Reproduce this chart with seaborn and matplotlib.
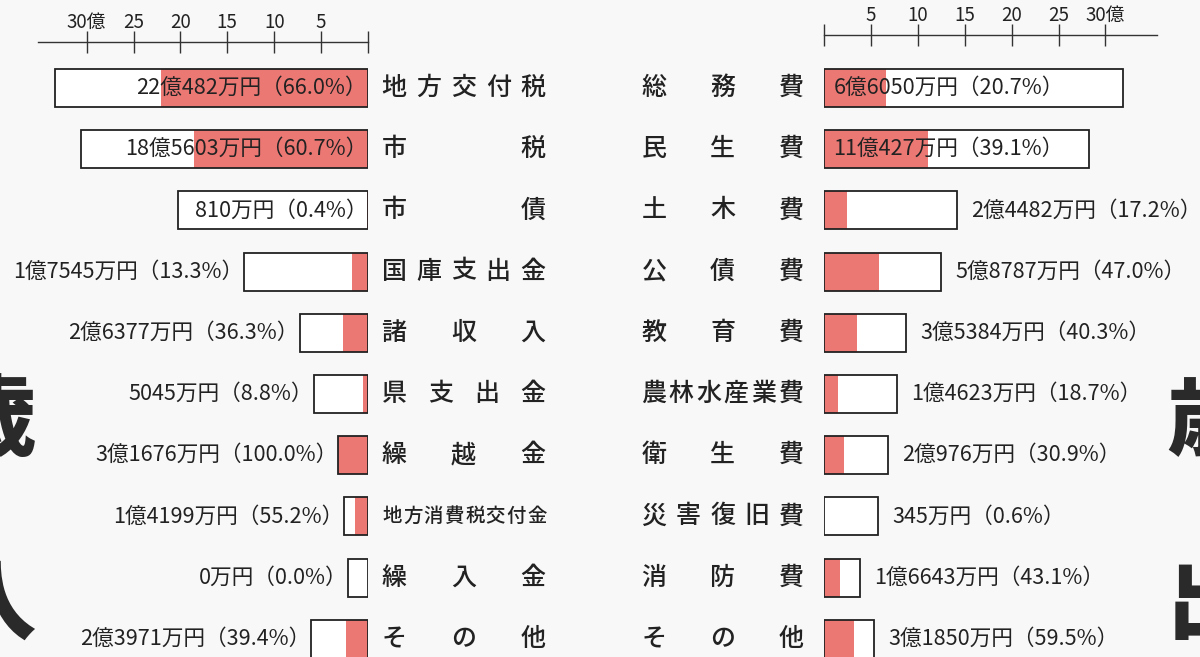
import matplotlib
matplotlib.use("Agg")
import matplotlib.pyplot as plt
import matplotlib.transforms as mtransforms
import seaborn as sns

# 歳入（左）: 予算額(億円), 収入済額(万円), 収入率(%)
rev_items = ["地方交付税", "市税", "市債", "国庫支出金", "諸収入",
             "県支出金", "繰越金", "地方消費税交付金", "繰入金", "その他"]
rev_budget = [33.4, 30.6, 20.3, 13.2, 7.27, 5.73, 3.17, 2.57, 2.1, 6.08]
rev_actual = [220482, 185603, 810, 17545, 26377, 5045, 31676, 14199, 0, 23971]
rev_rate = [66.0, 60.7, 0.4, 13.3, 36.3, 8.8, 100.0, 55.2, 0.0, 39.4]

# 歳出（右）
exp_items = ["総務費", "民生費", "土木費", "公債費", "教育費",
             "農林水産業費", "衛生費", "災害復旧費", "消防費", "その他"]
exp_budget = [31.9, 28.2, 14.2, 12.5, 8.78, 7.82, 6.79, 5.75, 3.86, 5.35]
exp_actual = [66050, 110427, 24482, 58787, 35384, 14623, 20976, 345, 16643, 31850]
exp_rate = [20.7, 39.1, 17.2, 47.0, 40.3, 18.7, 30.9, 0.6, 43.1, 59.5]

scale_ticks = [0, 5, 10, 15, 20, 25, 30]
scale_labels = ["", "5", "10", "15", "20", "25", "30億"]

W, H = 1200, 657
PX = 9.38          # 1億円あたりのピクセル
ROW0, STEP = 88, 61.2
RED = "#EC7874"
INK = "#222222"
BG = "#F8F8F8"

sns.set_theme(style="white")
plt.rcParams["font.family"] = ["Noto Sans CJK JP", "DejaVu Sans"]


def yen_label(man, rate):
    oku, rest = divmod(man, 10000)
    s = f"{oku}億{rest}万円" if oku else f"{rest}万円"
    return f"{s}（{rate:.1f}%）"


def spread_text(ax, text, row, x0, x1, size):
    # 均等割付
    trans = mtransforms.blended_transform_factory(fig.transFigure, ax.transData)
    n = len(text)
    for i, ch in enumerate(text):
        x = x0 + (x1 - x0) * i / (n - 1) if n > 1 else x0
        ax.text(x / W, row, ch, transform=trans, ha="center", va="center",
                fontsize=size, color=INK, fontweight="medium")


def draw_side(ax, items, budget, actual, rate, left):
    oku = [a / 10000 for a in actual]
    sns.barplot(x=budget, y=items, ax=ax, orient="h", color="white",
                saturation=1, width=0.62, linewidth=0)
    sns.barplot(x=oku, y=items, ax=ax, orient="h", color=RED,
                saturation=1, width=0.62, linewidth=0)
    sns.barplot(x=budget, y=items, ax=ax, orient="h", color=INK,
                fill=False, width=0.62, linewidth=1.3)
    for i, (b, m, r) in enumerate(zip(budget, actual, rate)):
        txt = yen_label(m, r)
        inside = b >= 20
        if left:
            x = 0.1 if inside else b + 0.1
            ax.text(x, i, txt, ha="right", va="center", fontsize=15.6,
                    color=INK, clip_on=False)
        else:
            x = 1.0 if inside else b + 1.5
            ax.text(x, i, txt, ha="left", va="center", fontsize=15.6,
                    color=INK, clip_on=False)
    ax.set_ylim(9 + (H - (ROW0 + 9 * STEP)) / STEP, -ROW0 / STEP)
    ax.axis("off")


def draw_scale(rect, xlim):
    ax = fig.add_axes(rect)
    ax.set_xlim(*xlim)
    ax.set_facecolor("none")
    for s in ["left", "right", "bottom"]:
        ax.spines[s].set_visible(False)
    ax.spines["top"].set_color("#333333")
    ax.spines["top"].set_linewidth(1.0)
    ax.set_yticks([])
    ax.xaxis.set_ticks_position("top")
    ax.set_xticks(scale_ticks)
    ax.set_xticklabels(scale_labels)
    ax.tick_params(axis="x", direction="inout", length=16, width=1.0,
                   color="#333333", labelsize=13.5, pad=-1.5, labelcolor=INK)


fig = plt.figure(figsize=(W / 100, H / 100), dpi=100)
fig.patch.set_facecolor(BG)

ax_l = fig.add_axes([0, 0, 368 / W, 1])
ax_l.set_xlim(368 / PX, 0)
draw_side(ax_l, rev_items, rev_budget, rev_actual, rev_rate, left=True)

ax_r = fig.add_axes([824 / W, 0, 376 / W, 1])
ax_r.set_xlim(0, 376 / PX)
draw_side(ax_r, exp_items, exp_budget, exp_actual, exp_rate, left=False)

for i, name in enumerate(rev_items):
    if len(name) > 6:
        spread_text(ax_l, name, i, 392, 537, 14)
    else:
        spread_text(ax_l, name, i, 394, 533, 18)
for i, name in enumerate(exp_items):
    spread_text(ax_r, name, i, 654, 791, 18)

draw_scale([38 / W, 1 - 42 / H, 330 / W, 0.0001], (330 / PX, 0))
draw_scale([824 / W, 1 - 35 / H, 333 / W, 0.0001], (0, 333 / PX))

# 見出し（縦書き・はみ出し）
for ch, yy in [("歳", 422), ("入", 605)]:
    fig.text(-8 / W, 1 - yy / H, ch, ha="center", va="center", fontsize=64,
             fontweight="heavy", color="#2a2a2a")
for ch, yy in [("歳", 422), ("出", 605)]:
    fig.text(1211 / W, 1 - yy / H, ch, ha="center", va="center", fontsize=64,
             fontweight="heavy", color="#2a2a2a")

fig.savefig("out.png", dpi=100, facecolor=BG)
